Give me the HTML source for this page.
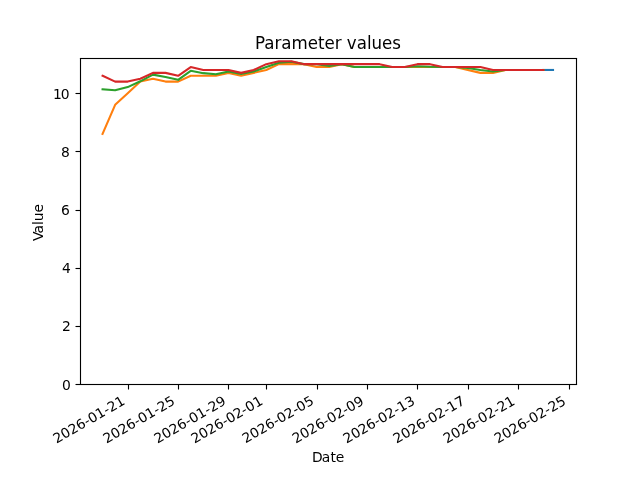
<!DOCTYPE html>
<html lang="en"><head><meta charset="utf-8"><title>Parameter values</title>
<style>html,body{margin:0;padding:0;background:#fff;width:640px;height:480px;overflow:hidden}svg{display:block}text{font-family:"DejaVu Sans","Liberation Sans",sans-serif;fill:#000}.t{font-size:13.889px}.ti{font-size:16.667px}.ax{stroke:#000;stroke-width:1.111;fill:none}.ln{fill:none;stroke-width:2.0833;stroke-linejoin:round;stroke-linecap:square}</style>
</head><body>
<svg width="640" height="480" viewBox="0 0 640 480">
<rect width="640" height="480" fill="#fff"/>
<g id="xticks">
<path class="ax" d="M128.5 384.5V389.5"/>
<path class="ax" d="M178.5 384.5V389.5"/>
<path class="ax" d="M228.5 384.5V389.5"/>
<path class="ax" d="M266.5 384.5V389.5"/>
<path class="ax" d="M317.5 384.5V389.5"/>
<path class="ax" d="M367.5 384.5V389.5"/>
<path class="ax" d="M417.5 384.5V389.5"/>
<path class="ax" d="M468.5 384.5V389.5"/>
<path class="ax" d="M518.5 384.5V389.5"/>
<path class="ax" d="M569.5 384.5V389.5"/>
</g><g id="yticks">
<path class="ax" d="M80.5 384.5H75.5"/>
<path class="ax" d="M80.5 326.5H75.5"/>
<path class="ax" d="M80.5 268.5H75.5"/>
<path class="ax" d="M80.5 210.5H75.5"/>
<path class="ax" d="M80.5 151.5H75.5"/>
<path class="ax" d="M80.5 93.5H75.5"/>
</g><g id="labels">
<text class="t" transform="translate(56.513 443.720) rotate(-30) scale(1 0.98)" x="0 8.75 17.5 26.25 35.25 40 48.75 57.75 62.5 71.25">2026-01-21</text>
<text class="t" transform="translate(106.515 443.720) rotate(-30) scale(1 0.98)" x="0 8.75 17.5 26.25 35.25 40 48.75 57.75 62.5 71.25">2026-01-25</text>
<text class="t" transform="translate(157.517 443.720) rotate(-30) scale(1 0.98)" x="0 8.75 17.5 26.25 35.25 40 48.75 57.75 62.5 71.25">2026-01-29</text>
<text class="t" transform="translate(194.550 443.720) rotate(-30) scale(1 0.98)" x="0 8.75 17.5 26.25 35.25 40 48.75 57.25 62.375 71.25">2026-02-01</text>
<text class="t" transform="translate(245.553 443.470) rotate(-30) scale(1 0.96)" x="0 8.75 17.5 26.25 35.25 39.75 48.625 57.75 62.375 71.25">2026-02-05</text>
<text class="t" transform="translate(295.680 443.720) rotate(-30)" x="0 8.75 17.5 26.25 34.75 40 48.75 57.25 62.25 71.125">2026-02-09</text>
<text class="t" transform="translate(346.558 443.720) rotate(-30) scale(1 0.98)" x="0 8.75 17.5 26.25 35.25 40 48.75 57.75 62.375 71.25">2026-02-13</text>
<text class="t" transform="translate(396.560 443.720) rotate(-30) scale(1 0.98)" x="0 8.75 17.5 26.25 35.25 40 48.75 57.75 62.375 71.25">2026-02-17</text>
<text class="t" transform="translate(446.687 443.720) rotate(-30)" x="0 8.75 17.5 26.25 34.75 40 48.75 57.25 62.375 71.125">2026-02-21</text>
<text class="t" transform="translate(497.690 443.720) rotate(-30)" x="0 8.75 17.5 26.25 34.75 40 48.75 57.25 62.375 71.125">2026-02-25</text>
<text class="t" transform="translate(311.188 461.830) scale(1 0.98)" x="0.75 10.5 19.375 24.5">Date</text>
<text class="t" transform="translate(62.028 390.277) scale(1 0.98)" x="0">0</text>
<text class="t" transform="translate(62.028 331.121) scale(1 0.96)" x="0">2</text>
<text class="t" transform="translate(62.028 272.965) scale(1 1.04)" x="0">4</text>
<text class="t" transform="translate(60.903 214.809)" x="0">6</text>
<text class="t" transform="translate(60.903 156.653) scale(1 1.02)" x="0">8</text>
<text class="t" transform="translate(52.153 99.497) scale(1 0.98)" x="0.75 8.5">10</text>
<text class="t" transform="translate(43.160 241.862) rotate(-90) scale(1 1.04)" x="0.875 8.375 17 20.5 29.25">Value</text>
<text class="ti" transform="translate(255.000 49.267) scale(1 1.04)" x="0 9.375 19.5 26.375 36.5 52.75 63 69.5 79.75 86.625 91.875 101.75 112 116.5 127 137.25">Parameter values</text>
</g><g id="lines">
<polyline class="ln" stroke="#1f77b4" points="543.35,69.96 553.02,69.96"/>
<polyline class="ln" stroke="#ff7f0e" points="102.55,133.93 115.14,104.85 127.73,93.22 140.33,81.59 152.92,78.68 165.52,81.59 178.11,81.59 190.71,75.77 203.30,75.77 215.89,75.77 228.49,72.87 241.08,75.77 253.68,72.87 266.27,69.96 278.87,64.14 291.46,64.14 304.05,64.14 316.65,67.05 329.24,67.05 341.84,64.14 354.43,67.05 367.03,67.05 379.62,67.05 392.22,67.05 404.81,67.05 417.40,67.05 430.00,67.05 442.59,67.05 455.19,67.05 467.78,69.96 480.38,72.87 492.97,72.87 505.56,69.96 518.16,69.96 530.75,69.96 543.35,69.96"/>
<polyline class="ln" stroke="#2ca02c" points="102.55,89.29 115.14,90.31 127.73,87.11 140.33,81.30 152.92,74.61 165.52,76.94 178.11,79.84 190.71,70.83 203.30,73.16 215.89,74.32 228.49,71.41 241.08,74.03 253.68,71.41 266.27,66.90 278.87,62.69 291.46,61.82 304.05,64.14 316.65,64.14 329.24,65.89 341.84,64.14 354.43,67.05 367.03,67.05 379.62,67.05 392.22,67.05 404.81,67.05 417.40,66.18 430.00,66.76 442.59,67.05 455.19,67.05 467.78,67.92 480.38,69.96 492.97,71.41 505.56,69.96 518.16,69.96 530.75,69.96 543.35,69.96"/>
<polyline class="ln" stroke="#d62728" points="102.55,75.77 115.14,81.59 127.73,81.59 140.33,78.68 152.92,72.87 165.52,72.87 178.11,75.77 190.71,67.05 203.30,69.96 215.89,69.96 228.49,69.96 241.08,72.87 253.68,69.96 266.27,64.14 278.87,61.23 291.46,61.23 304.05,64.14 316.65,64.14 329.24,64.14 341.84,64.14 354.43,64.14 367.03,64.14 379.62,64.14 392.22,67.05 404.81,67.05 417.40,64.14 430.00,64.14 442.59,67.05 455.19,67.05 467.78,67.05 480.38,67.05 492.97,69.96 505.56,69.96 518.16,69.96 530.75,69.96 543.35,69.96"/>
</g>
<g id="spines" stroke-linecap="square"><path class="ax" d="M80.5 384.5V58.5"/><path class="ax" d="M576.5 384.5V58.5"/><path class="ax" d="M80.5 384.5H576.5"/><path class="ax" d="M80.5 58.5H576.5"/></g>
<g id="spine-fringe" fill="#000" fill-opacity="0.055"><rect x="79.944" y="57" width="497.112" height="1"/><rect x="79.944" y="59" width="497.112" height="1"/><rect x="79.944" y="383" width="497.112" height="1"/><rect x="79.944" y="385" width="497.112" height="1"/></g>
</svg>
</body></html>
